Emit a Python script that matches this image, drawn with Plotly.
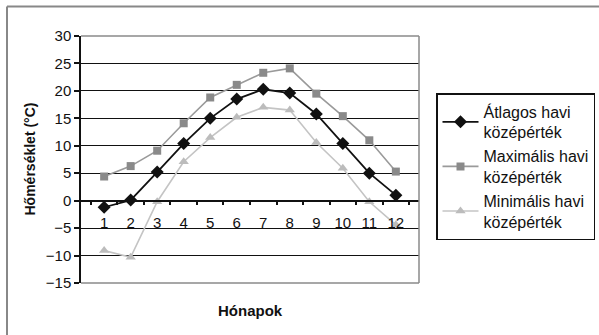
import plotly.graph_objects as go

honapok = ["1", "2", "3", "4", "5", "6", "7", "8", "9", "10", "11", "12"]
atlagos = [-1.2, 0.1, 5.2, 10.4, 15.0, 18.5, 20.3, 19.6, 15.8, 10.4, 5.0, 1.0]
maximalis = [4.4, 6.3, 9.1, 14.1, 18.8, 21.1, 23.3, 24.1, 19.5, 15.4, 11.0, 5.3]
minimalis = [-9.1, -10.3, -0.2, 7.1, 11.5, 15.2, 17.0, 16.5, 10.6, 5.9, -0.2, -4.4]
y_ticks = [-15, -10, -5, 0, 5, 10, 15, 20, 25, 30]

W, H = 599, 335
L, R, T, B = 81, 180, 36, 52
pw, ph = W - L - R, H - T - B


def px_x(px):
    return (px - L) / pw


def px_y(py):
    return (H - B - py) / ph


font = "Liberation Sans, Arial, sans-serif"

fig = go.Figure()
fig.add_trace(go.Scatter(
    x=honapok, y=atlagos, mode="lines+markers",
    name="Átlagos havi<br>középérték",
    line=dict(color="#111111", width=1.8),
    marker=dict(symbol="diamond", size=10, color="#111111"),
))
fig.add_trace(go.Scatter(
    x=honapok, y=maximalis, mode="lines+markers",
    name="Maximális havi<br>középérték",
    line=dict(color="#9a9a9a", width=1.6),
    marker=dict(symbol="square", size=8, color="#8a8a8a"),
))
fig.add_trace(go.Scatter(
    x=honapok, y=minimalis, mode="lines+markers",
    name="Minimális havi<br>középérték",
    line=dict(color="#c4c4c4", width=1.6),
    marker=dict(symbol="triangle-up", size=9, color="#bcbcbc"),
))

fig.update_layout(
    width=W, height=H,
    margin=dict(l=L, r=R, t=T, b=B, pad=0, autoexpand=False),
    paper_bgcolor="white", plot_bgcolor="white",
    font=dict(family=font, size=15, color="#111111"),
    showlegend=True,
    legend=dict(
        x=px_x(595), y=px_y(93), xanchor="right", yanchor="top",
        bordercolor="#111111", borderwidth=1.5, bgcolor="white",
        font=dict(family=font, size=16, color="#111111"),
        itemwidth=36, tracegroupgap=0,
    ),
    xaxis=dict(
        type="category", tickson="boundaries",
        anchor="free", position=px_y(200.7),
        showline=True, linecolor="#111111", linewidth=1.5,
        ticks="outside", ticklen=4, tickcolor="#111111", tickwidth=1.5,
        showgrid=False, zeroline=False,
        tickangle=0, ticklabelstandoff=9,
        tickfont=dict(family=font, size=15, color="#111111"),
    ),
    yaxis=dict(
        range=[-15, 30], tickvals=y_ticks,
        showline=True, linecolor="#111111", linewidth=1.5,
        ticks="outside", ticklen=5, tickcolor="#111111", tickwidth=1.5,
        showgrid=True, gridcolor="#111111", gridwidth=1.2,
        zeroline=True, zerolinecolor="#111111", zerolinewidth=1.2,
        tickfont=dict(family=font, size=15, color="#111111"),
    ),
    annotations=[
        dict(text="<b>Hőmérséklet (°C)</b>", xref="paper", yref="paper",
             x=px_x(29), y=px_y(159.5), xanchor="center", yanchor="middle",
             textangle=-90, showarrow=False,
             font=dict(family=font, size=14, color="#111111")),
        dict(text="<b>Hónapok</b>", xref="paper", yref="paper",
             x=px_x(250), y=px_y(310.5), xanchor="center", yanchor="middle",
             showarrow=False,
             font=dict(family=font, size=15, color="#111111")),
    ],
    shapes=[
        # plot area border (grey)
        dict(type="line", xref="paper", yref="paper", x0=0, x1=1, y0=1, y1=1,
             line=dict(color="#8a8a8a", width=1.5), layer="above"),
        dict(type="line", xref="paper", yref="paper", x0=0, x1=1, y0=0, y1=0,
             line=dict(color="#8a8a8a", width=1.5), layer="above"),
        dict(type="line", xref="paper", yref="paper", x0=1, x1=1, y0=0, y1=1,
             line=dict(color="#8a8a8a", width=1.5), layer="above"),
        # chart area frame, top and left edges
        dict(type="line", xref="paper", yref="paper",
             x0=px_x(7), x1=px_x(599), y0=px_y(6.5), y1=px_y(6.5),
             line=dict(color="#888888", width=2)),
        dict(type="line", xref="paper", yref="paper",
             x0=px_x(7), x1=px_x(7), y0=px_y(6.5), y1=px_y(335),
             line=dict(color="#888888", width=2)),
    ],
)

fig.write_html("out.html")
